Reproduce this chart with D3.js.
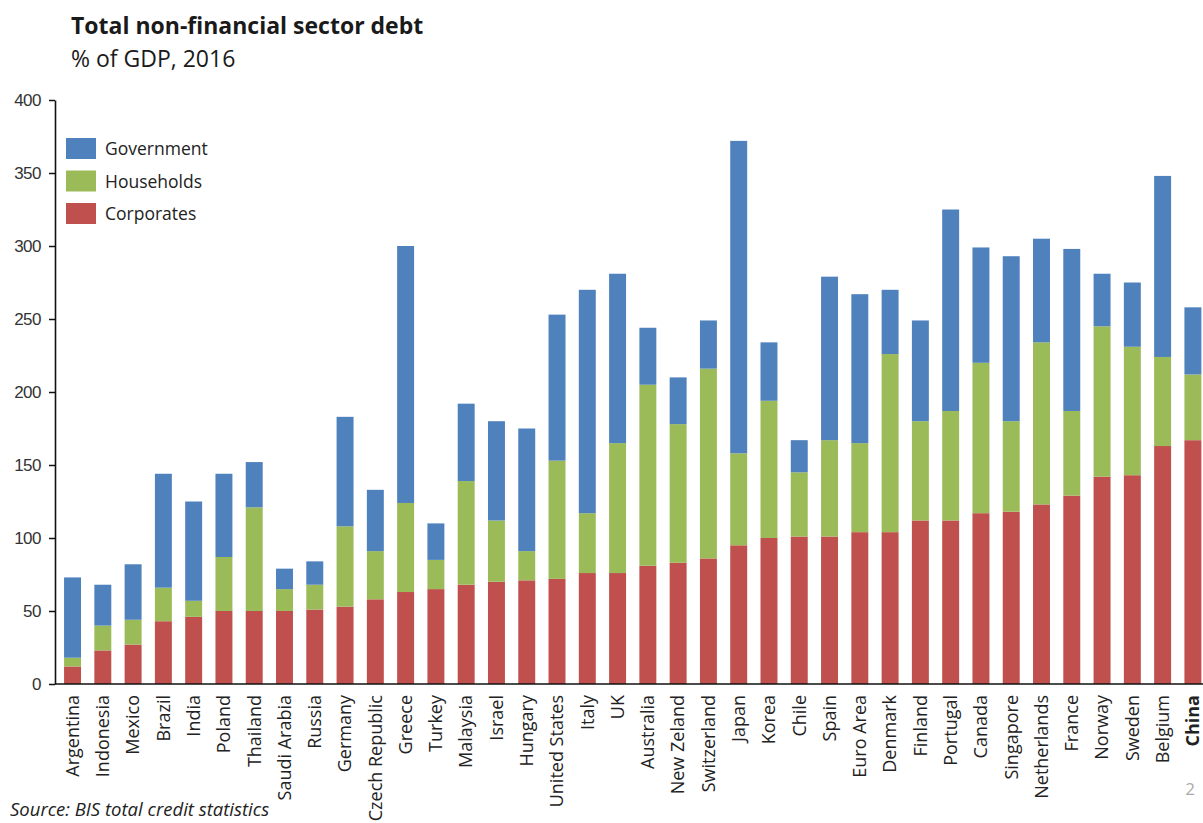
<!DOCTYPE html>
<html>
<head>
<meta charset="utf-8">
<script src="https://cdn.jsdelivr.net/npm/d3@7"></script>
<style>
  body { margin: 0; background: #fff; }
  svg { display: block; font-family: "Open Sans", "Noto Sans", sans-serif; }
</style>
</head>
<body>
<div id="chart"></div>
<script>
// Total non-financial sector debt, % of GDP, 2016 (BIS)
const countries = ["Argentina", "Indonesia", "Mexico", "Brazil", "India", "Poland", "Thailand",
  "Saudi Arabia", "Russia", "Germany", "Czech Republic", "Greece", "Turkey", "Malaysia", "Israel",
  "Hungary", "United States", "Italy", "UK", "Australia", "New Zeland", "Switzerland", "Japan",
  "Korea", "Chile", "Spain", "Euro Area", "Denmark", "Finland", "Portugal", "Canada", "Singapore",
  "Netherlands", "France", "Norway", "Sweden", "Belgium", "China"];
const corporates = [12, 23, 27, 43, 46, 50, 50, 50, 51, 53, 58, 63, 65, 68, 70, 71, 72, 76, 76, 81,
  83, 86, 95, 100, 101, 101, 104, 104, 112, 112, 117, 118, 123, 129, 142, 143, 163, 167];
const households = [6, 17, 17, 23, 11, 37, 71, 15, 17, 55, 33, 61, 20, 71, 42, 20, 81, 41, 89, 124,
  95, 130, 63, 94, 44, 66, 61, 122, 68, 75, 103, 62, 111, 58, 103, 88, 61, 45];
const government = [55, 28, 38, 78, 68, 57, 31, 14, 16, 75, 42, 176, 25, 53, 68, 84, 100, 153, 116,
  39, 32, 33, 214, 40, 22, 112, 102, 44, 69, 138, 79, 113, 71, 111, 36, 44, 124, 46];
const yTicks = [0, 50, 100, 150, 200, 250, 300, 350, 400];
const seriesKeys = ["Corporates", "Households", "Government"];
const legendOrder = ["Government", "Households", "Corporates"];
const colors = { Corporates: "#C0504D", Households: "#9BBB59", Government: "#4F81BD" };
const highlight = "China";

const width = 1203, height = 823;
const margin = { top: 100, left: 55, bottom: 139 };
const y0 = height - margin.bottom; // baseline

const rows = countries.map((c, i) => ({
  country: c,
  Corporates: corporates[i],
  Households: households[i],
  Government: government[i]
}));

const svg = d3.select("#chart").append("svg")
  .attr("width", width)
  .attr("height", height);

const x = d3.scaleBand()
  .domain(countries)
  .range([57.4, 57.4 + 30.28 * countries.length])
  .paddingInner(0.44)
  .paddingOuter(0.22);

const y = d3.scaleLinear().domain([0, 400]).range([y0, margin.top]);

const stack = d3.stack().keys(seriesKeys)(rows);

svg.append("g")
  .selectAll("g")
  .data(stack)
  .join("g")
    .attr("fill", d => colors[d.key])
  .selectAll("rect")
  .data(d => d)
  .join("rect")
    .attr("x", d => x(d.data.country))
    .attr("y", d => y(d[1]))
    .attr("width", x.bandwidth())
    .attr("height", d => y(d[0]) - y(d[1]));

// y axis
const yAxis = svg.append("g")
  .attr("transform", `translate(${margin.left},0)`)
  .call(d3.axisLeft(y).tickValues(yTicks).tickSize(6).tickSizeOuter(0).tickPadding(8));
yAxis.select(".domain").attr("stroke", "#111").attr("stroke-width", 1.6);
yAxis.selectAll(".tick line").attr("stroke", "#111").attr("stroke-width", 1.5);
yAxis.selectAll(".tick text")
  .attr("fill", "#333")
  .style("font-size", "17px")
  .style("letter-spacing", "-0.5px");

// x axis baseline
svg.append("line")
  .attr("x1", margin.left).attr("x2", width)
  .attr("y1", y0).attr("y2", y0)
  .attr("stroke", "#111").attr("stroke-width", 1.6);

// country labels
svg.append("g")
  .selectAll("text")
  .data(countries)
  .join("text")
    .attr("transform", d => `translate(${x(d) + x.bandwidth() / 2},${y0 + 11}) rotate(-90)`)
    .attr("text-anchor", "end")
    .attr("dy", "0.35em")
    .attr("fill", "#222")
    .style("font-size", "18px")
    .style("font-weight", d => d === highlight ? 700 : 400)
    .text(d => d);

// title
svg.append("text")
  .attr("x", 71).attr("y", 34)
  .attr("fill", "#1a1a1a")
  .style("font-size", "23px")
  .style("font-weight", 700)
  .text("Total non-financial sector debt");

svg.append("text")
  .attr("x", 71).attr("y", 67)
  .attr("fill", "#1a1a1a")
  .style("font-size", "23px")
  .text("% of GDP, 2016");

// legend
const legend = svg.append("g").attr("transform", "translate(66,138)");
legendOrder.forEach((k, i) => {
  const g = legend.append("g").attr("transform", `translate(0,${i * 32.5})`);
  g.append("rect").attr("width", 30).attr("height", 21).attr("fill", colors[k]);
  g.append("text").attr("x", 39).attr("y", 11).attr("dy", "0.35em")
    .attr("fill", "#222").style("font-size", "17.5px").text(k);
});

// source and page number
svg.append("text")
  .attr("x", 10).attr("y", 816)
  .attr("fill", "#222")
  .style("font-size", "18.5px")
  .style("font-style", "italic")
  .text("Source: BIS total credit statistics");

svg.append("text")
  .attr("x", 1190).attr("y", 795)
  .attr("text-anchor", "middle")
  .attr("fill", "#aaa")
  .style("font-size", "17px")
  .text("2");
</script>
</body>
</html>
